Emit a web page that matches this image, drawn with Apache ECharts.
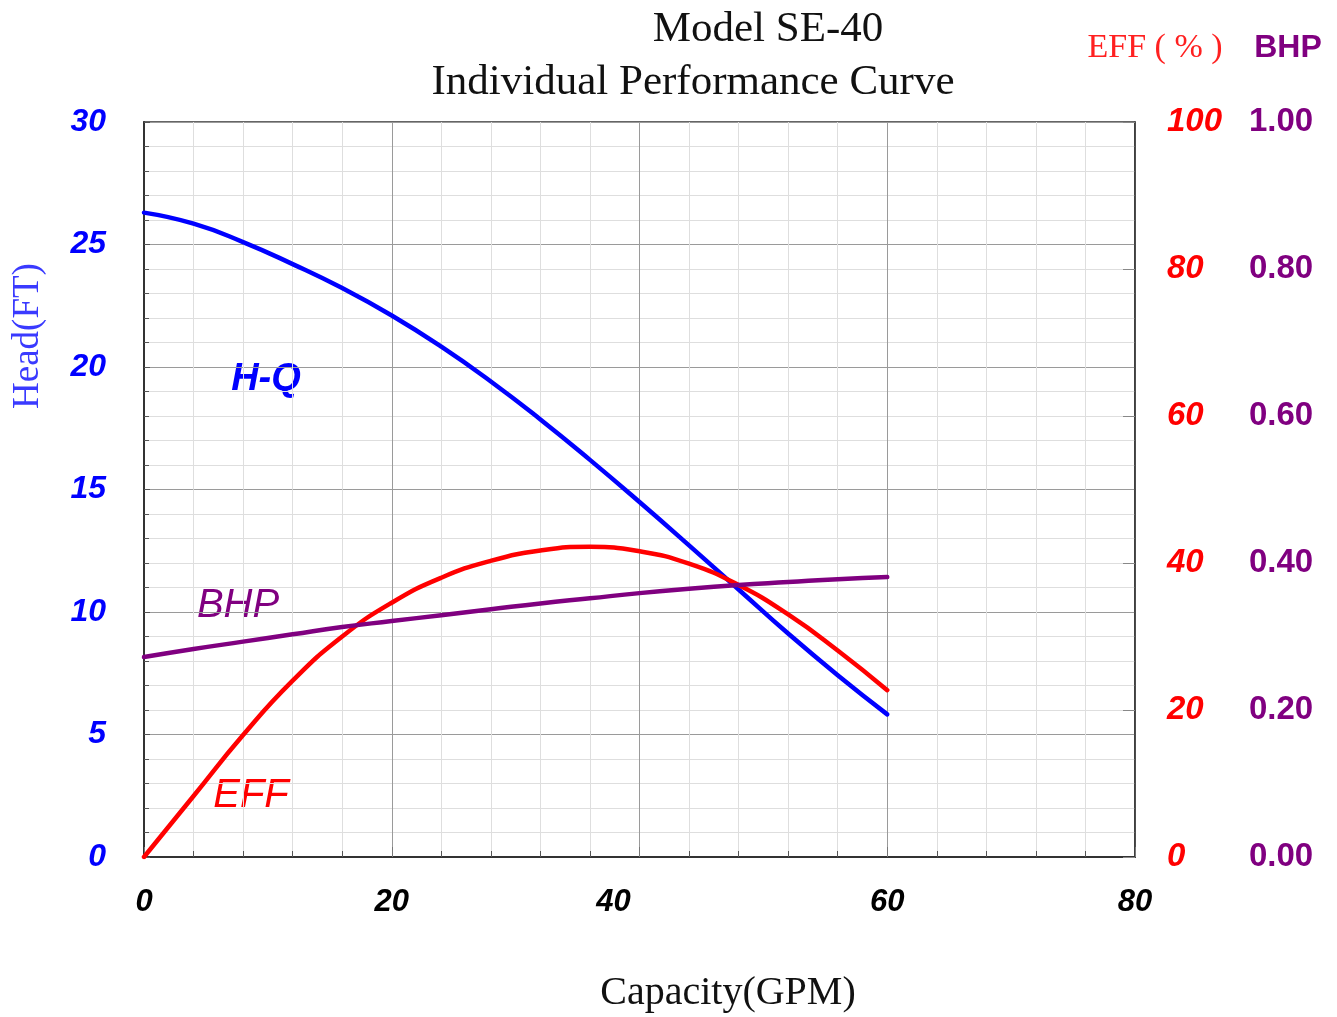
<!DOCTYPE html>
<html>
<head>
<meta charset="utf-8">
<script src="https://cdn.jsdelivr.net/npm/echarts@6/dist/echarts.min.js"></script>
<style>
html,body{margin:0;padding:0;background:#fff;}
#chart{width:1337px;height:1017px;}
</style>
</head>
<body>
<div id="chart"></div>
<script>
// ---- data ----
const flowGpm = [0, 4, 8, 12, 16, 20, 24, 28, 32, 36, 40, 44, 48, 52, 56, 60];
const headFt  = [26.3, 25.85, 25.1, 24.2, 23.22, 22.1, 20.83, 19.41, 17.86, 16.21, 14.49, 12.72, 10.92, 9.12, 7.42, 5.82];
const effPct  = [0, 8.3, 16.6, 24.0, 30.0, 34.6, 38.0, 40.3, 41.7, 42.2, 41.6, 39.9, 37.0, 33.0, 28.1, 22.7];
const bhpHp   = [0.272, 0.283, 0.293, 0.303, 0.313, 0.321, 0.329, 0.337, 0.345, 0.352, 0.359, 0.365, 0.370, 0.374, 0.378, 0.381];
const xTicks = [0, 20, 40, 60, 80];
const headTicks = [0, 5, 10, 15, 20, 25, 30];
const effTicks = [0, 20, 40, 60, 80, 100];
const bhpTicks = [0.0, 0.2, 0.4, 0.6, 0.8, 1.0];

const chart = echarts.init(document.getElementById('chart'), null, {renderer: 'canvas'});
const sans = 'Liberation Sans, Arial, sans-serif';
const serif = 'Liberation Serif, Times New Roman, serif';

const pair = (ys) => flowGpm.map((q, i) => [q, ys[i]]);

const option = {
  backgroundColor: '#ffffff',
  animation: false,
  grid: {left: 144, right: 202, top: 122, bottom: 160, show: true, borderColor: '#333', borderWidth: 1.5, backgroundColor: 'transparent'},
  xAxis: {
    type: 'value', min: xTicks[0], max: xTicks[xTicks.length - 1], interval: 20,
    axisLine: {show: true, onZero: false, lineStyle: {color: '#333', width: 2}},
    axisTick: {show: true, inside: true, length: 10, lineStyle: {color: '#777'}},
    minorTick: {show: true, splitNumber: 5, length: 6, lineStyle: {color: '#555'}},
    splitLine: {show: true, lineStyle: {color: '#9a9a9a', width: 1}},
    minorSplitLine: {show: true, lineStyle: {color: '#dedede', width: 1}},
    axisLabel: {
      margin: 30, fontFamily: sans, fontSize: 31, fontWeight: 'bold', fontStyle: 'italic', color: '#000',
      formatter: (v) => v === 40 ? '{s|40}' : String(v),
      rich: {s: {fontFamily: sans, fontSize: 31, fontWeight: 'bold', fontStyle: 'italic', color: '#000', padding: [0, 52, 0, 0]}}
    }
  },
  yAxis: [
    {
      type: 'value', min: headTicks[0], max: headTicks[headTicks.length - 1], interval: 5, position: 'left',
      axisLine: {show: true, onZero: false, lineStyle: {color: '#333', width: 2}},
      axisTick: {show: true, inside: true, length: 6, lineStyle: {color: '#555'}},
      minorTick: {show: true, splitNumber: 5, length: 5, lineStyle: {color: '#555'}},
      splitLine: {show: true, lineStyle: {color: '#9a9a9a', width: 1}},
      minorSplitLine: {show: true, lineStyle: {color: '#dedede', width: 1}},
      axisLabel: {margin: 38, fontFamily: sans, fontSize: 32, fontWeight: 'bold', fontStyle: 'italic', color: '#0000ff'}
    },
    {
      type: 'value', min: effTicks[0], max: effTicks[effTicks.length - 1], interval: 20, position: 'right',
      axisLine: {show: true, onZero: false, lineStyle: {color: '#333', width: 1.5}},
      axisTick: {show: true, inside: true, length: 12, lineStyle: {color: '#888'}},
      splitLine: {show: false},
      axisLabel: {margin: 32, align: 'left', fontFamily: sans, fontSize: 33, fontWeight: 'bold', fontStyle: 'italic', color: '#ff0000'}
    },
    {
      type: 'value', min: bhpTicks[0], max: bhpTicks[bhpTicks.length - 1], interval: 0.2, position: 'right',
      axisLine: {show: false, onZero: false}, axisTick: {show: false}, splitLine: {show: false},
      axisLabel: {margin: 114, align: 'left', fontFamily: sans, fontSize: 33, fontWeight: 'bold', color: '#800080',
        formatter: (v) => v.toFixed(2)}
    }
  ],
  series: [
    {name: 'H-Q', type: 'line', yAxisIndex: 0, data: pair(headFt), smooth: true, showSymbol: false,
      lineStyle: {color: '#0000ff', width: 4.5, cap: 'round'}, z: 3},
    {name: 'EFF', type: 'line', yAxisIndex: 1, data: pair(effPct), smooth: true, showSymbol: false,
      lineStyle: {color: '#ff0000', width: 4.5, cap: 'round'}, z: 4},
    {name: 'BHP', type: 'line', yAxisIndex: 2, data: pair(bhpHp), smooth: true, showSymbol: false,
      lineStyle: {color: '#800080', width: 4.5, cap: 'round'}, z: 5}
  ],
  graphic: [
    {type: 'text', x: 768, y: 30, style: {text: 'Model SE-40', font: '43px ' + serif, fill: '#111', align: 'center', verticalAlign: 'middle'}},
    {type: 'text', x: 693, y: 83, style: {text: 'Individual Performance Curve', font: '43px ' + serif, fill: '#111', align: 'center', verticalAlign: 'middle'}},
    {type: 'text', x: 1155, y: 48, style: {text: 'EFF ( % )', font: '34px ' + serif, fill: '#ff2020', align: 'center', verticalAlign: 'middle'}},
    {type: 'text', x: 1288, y: 48, style: {text: 'BHP', font: 'bold 32px ' + sans, fill: '#800080', align: 'center', verticalAlign: 'middle'}},
    {type: 'text', x: 28, y: 336, rotation: Math.PI / 2, style: {text: 'Head(FT)', font: '37px ' + serif, fill: '#3a3aff', align: 'center', verticalAlign: 'middle'}},
    {type: 'text', x: 728, y: 993, style: {text: 'Capacity(GPM)', font: '40px ' + serif, fill: '#111', align: 'center', verticalAlign: 'middle'}},
    {type: 'text', x: 266, y: 380, style: {text: 'H-Q', font: 'italic bold 38px ' + sans, fill: '#0000ff', align: 'center', verticalAlign: 'middle'}},
    {type: 'text', x: 238, y: 606, style: {text: 'BHP', font: 'italic 40px ' + sans, fill: '#800080', align: 'center', verticalAlign: 'middle'}},
    {type: 'text', x: 251, y: 796, style: {text: 'EFF', font: 'italic 40px ' + sans, fill: '#ff0000', align: 'center', verticalAlign: 'middle'}}
  ]
};
chart.setOption(option);
</script>
</body>
</html>
